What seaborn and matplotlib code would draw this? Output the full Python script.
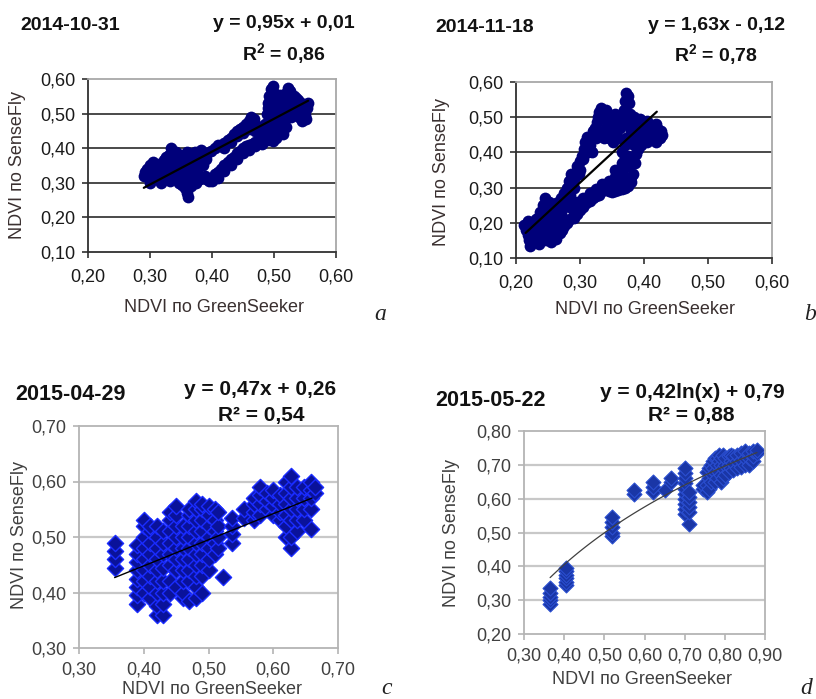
import numpy as np
import pandas as pd
import matplotlib
matplotlib.use("Agg")
import matplotlib.pyplot as plt
import seaborn as sns

# ---------------- data ----------------
a_points = [
    (0.290,0.320),(0.292,0.330),(0.295,0.340),(0.298,0.325),(0.300,0.350),(0.302,0.315),(0.305,0.360),
    (0.307,0.335),(0.310,0.310),(0.312,0.345),(0.315,0.355),(0.317,0.300),(0.320,0.330),(0.322,0.365),
    (0.325,0.320),(0.327,0.350),(0.330,0.380),(0.332,0.305),(0.334,0.400),(0.336,0.340),(0.338,0.370),
    (0.340,0.315),(0.342,0.390),(0.344,0.355),(0.346,0.300),(0.348,0.380),(0.350,0.330),(0.352,0.295),
    (0.354,0.365),(0.356,0.285),(0.358,0.345),(0.360,0.270),(0.361,0.260),(0.362,0.310),(0.364,0.380),
    (0.366,0.290),(0.368,0.355),(0.370,0.320),(0.372,0.390),(0.374,0.300),(0.376,0.340),(0.378,0.375),
    (0.380,0.310),(0.383,0.395),(0.385,0.350),(0.388,0.320),(0.390,0.370),(0.340,0.345),(0.325,0.375),
    (0.315,0.330),(0.360,0.390),(0.355,0.320),(0.345,0.330),(0.300,0.300),(0.366,0.335),
    (0.335,0.360),(0.350,0.355),(0.330,0.330),(0.370,0.360),(0.380,0.350),(0.375,0.325),
    (0.390,0.310),(0.395,0.305),(0.400,0.315),(0.405,0.325),(0.410,0.330),(0.415,0.340),(0.420,0.350),
    (0.425,0.360),(0.430,0.368),(0.435,0.375),(0.440,0.385),(0.445,0.392),(0.450,0.400),(0.455,0.405),
    (0.460,0.410),(0.465,0.413),(0.470,0.418),(0.475,0.420),(0.480,0.425),(0.485,0.428),(0.490,0.425),
    (0.400,0.305),(0.410,0.315),(0.420,0.335),(0.430,0.350),(0.440,0.370),(0.450,0.385),(0.460,0.395),
    (0.470,0.405),(0.480,0.412),
    (0.385,0.380),(0.392,0.385),(0.398,0.392),(0.405,0.400),(0.410,0.408),(0.415,0.405),(0.420,0.415),
    (0.425,0.425),(0.430,0.430),(0.435,0.440),(0.440,0.450),(0.445,0.455),(0.450,0.462),(0.455,0.470),
    (0.460,0.480),(0.463,0.490),(0.467,0.485),(0.470,0.470),(0.475,0.460),(0.480,0.455),(0.485,0.450),
    (0.420,0.400),(0.430,0.418),(0.440,0.435),(0.450,0.445),(0.460,0.455),(0.470,0.450),(0.480,0.440),
    (0.485,0.470),(0.488,0.500),(0.490,0.530),(0.492,0.550),(0.495,0.570),(0.498,0.580),(0.500,0.560),
    (0.502,0.540),(0.505,0.520),(0.500,0.500),(0.495,0.480),(0.500,0.450),(0.503,0.430),(0.498,0.420),
    (0.508,0.440),(0.510,0.470),(0.512,0.500),(0.515,0.530),(0.510,0.555),(0.518,0.545),(0.520,0.560),
    (0.523,0.575),(0.526,0.565),(0.528,0.545),(0.525,0.520),(0.522,0.490),(0.520,0.460),(0.515,0.440),
    (0.530,0.530),(0.533,0.550),(0.535,0.520),(0.538,0.540),(0.540,0.510),(0.543,0.530),(0.545,0.500),
    (0.548,0.520),(0.550,0.495),(0.553,0.515),(0.555,0.530),(0.552,0.485),(0.545,0.480),(0.535,0.500),
    (0.530,0.505),(0.528,0.490),(0.490,0.440),(0.493,0.460),(0.505,0.490),(0.490,0.515),
    (0.495,0.530),(0.505,0.555),(0.515,0.510),(0.525,0.540),(0.540,0.490),(0.535,0.545),(0.550,0.510),
    (0.500,0.470),(0.510,0.450),
]

b_points = [
    (0.212,0.195),(0.215,0.180),(0.218,0.165),(0.220,0.150),(0.222,0.135),(0.225,0.200),(0.228,0.175),
    (0.230,0.150),(0.232,0.210),(0.235,0.190),(0.236,0.140),(0.238,0.230),(0.240,0.165),(0.242,0.250),
    (0.244,0.200),(0.245,0.270),(0.247,0.150),(0.248,0.225),(0.250,0.180),(0.252,0.260),(0.254,0.145),
    (0.255,0.205),(0.257,0.240),(0.258,0.170),(0.260,0.215),(0.262,0.155),(0.263,0.255),(0.265,0.190),
    (0.267,0.230),(0.268,0.170),(0.270,0.205),(0.272,0.180),(0.275,0.245),(0.218,0.205),(0.226,0.160),
    (0.233,0.170),(0.243,0.185),
    (0.225,0.185),(0.230,0.195),(0.235,0.215),(0.240,0.205),(0.245,0.235),(0.250,0.215),(0.255,0.225),
    (0.250,0.245),(0.260,0.235),(0.265,0.250),(0.270,0.230),(0.280,0.260),(0.285,0.280),(0.275,0.210),
    (0.270,0.270),(0.275,0.285),(0.280,0.300),(0.283,0.320),(0.286,0.340),(0.290,0.325),(0.293,0.345),
    (0.296,0.360),(0.300,0.375),(0.303,0.390),(0.306,0.410),(0.308,0.430),(0.311,0.445),(0.315,0.420),
    (0.318,0.440),(0.320,0.460),(0.323,0.470),(0.326,0.485),(0.328,0.500),(0.330,0.515),(0.333,0.525),
    (0.336,0.510),(0.340,0.520),(0.343,0.505),(0.345,0.485),(0.348,0.470),(0.350,0.455),(0.328,0.460),
    (0.335,0.455),(0.340,0.470),(0.345,0.440),(0.352,0.430),(0.355,0.460),(0.358,0.480),(0.360,0.500),
    (0.363,0.470),(0.366,0.500),(0.368,0.520),(0.370,0.545),(0.372,0.570),(0.375,0.560),(0.377,0.540),
    (0.378,0.510),(0.380,0.490),(0.374,0.480),(0.312,0.400),(0.325,0.440),(0.338,0.440),(0.360,0.440),
    (0.290,0.300),(0.298,0.340),(0.355,0.510),(0.350,0.500),(0.342,0.490),(0.318,0.400),(0.305,0.380),
    (0.300,0.350),
    (0.260,0.190),(0.265,0.200),(0.270,0.195),(0.275,0.190),(0.280,0.200),(0.285,0.210),(0.290,0.215),
    (0.295,0.225),(0.300,0.235),(0.305,0.245),(0.310,0.255),(0.315,0.262),(0.320,0.270),(0.325,0.275),
    (0.330,0.280),(0.335,0.290),(0.340,0.295),(0.345,0.290),(0.350,0.288),(0.355,0.290),(0.360,0.292),
    (0.365,0.295),(0.370,0.300),(0.375,0.305),(0.380,0.315),(0.285,0.245),(0.295,0.260),(0.305,0.270),
    (0.315,0.285),(0.325,0.295),(0.335,0.310),(0.345,0.320),(0.355,0.330),(0.365,0.345),(0.375,0.360),
    (0.383,0.340),(0.386,0.370),(0.388,0.395),(0.390,0.410),(0.385,0.420),(0.392,0.430),
    (0.290,0.230),(0.300,0.250),(0.310,0.265),(0.320,0.285),(0.330,0.295),(0.340,0.305),(0.350,0.305),
    (0.360,0.310),(0.370,0.320),(0.380,0.330),(0.355,0.350),(0.365,0.370),(0.370,0.385),
    (0.380,0.440),(0.385,0.460),(0.390,0.480),(0.393,0.495),(0.396,0.475),(0.400,0.460),(0.403,0.480),
    (0.405,0.490),(0.408,0.470),(0.410,0.455),(0.413,0.440),(0.415,0.465),(0.418,0.480),(0.420,0.470),
    (0.423,0.455),(0.425,0.440),(0.427,0.460),(0.428,0.450),(0.400,0.440),(0.395,0.420),(0.405,0.430),
    (0.418,0.430),(0.370,0.420),(0.365,0.400),(0.375,0.390),(0.372,0.440),(0.380,0.460),(0.385,0.500),
    (0.390,0.455),
]

c_points = [
    (0.355,0.445),(0.355,0.460),(0.355,0.475),(0.355,0.490),
    (0.390,0.380),(0.390,0.395),(0.390,0.410),(0.390,0.425),(0.390,0.440),(0.390,0.455),(0.390,0.470),(0.390,0.485),
    (0.400,0.400),(0.400,0.420),(0.400,0.440),(0.400,0.460),(0.400,0.480),(0.400,0.500),(0.400,0.520),(0.400,0.530),
    (0.410,0.390),(0.410,0.410),(0.410,0.430),(0.410,0.450),(0.410,0.470),(0.410,0.490),(0.410,0.510),(0.410,0.520),
    (0.420,0.360),(0.420,0.375),(0.420,0.400),(0.420,0.420),(0.420,0.440),(0.420,0.460),(0.420,0.480),(0.420,0.500),(0.420,0.520),
    (0.430,0.360),(0.430,0.380),(0.430,0.400),(0.430,0.420),(0.430,0.445),(0.430,0.470),(0.430,0.490),(0.430,0.510),
    (0.440,0.400),(0.440,0.420),(0.440,0.450),(0.440,0.470),(0.440,0.490),(0.440,0.510),(0.440,0.530),(0.440,0.545),
    (0.450,0.410),(0.450,0.440),(0.450,0.460),(0.450,0.480),(0.450,0.500),(0.450,0.520),(0.450,0.540),(0.450,0.555),
    (0.460,0.390),(0.460,0.400),(0.460,0.420),(0.460,0.440),(0.460,0.460),(0.460,0.480),(0.460,0.500),(0.460,0.520),
    (0.470,0.385),(0.470,0.420),(0.470,0.440),(0.470,0.460),(0.470,0.480),(0.470,0.500),(0.470,0.520),(0.470,0.540),(0.470,0.550),
    (0.480,0.390),(0.480,0.410),(0.480,0.430),(0.480,0.450),(0.480,0.470),(0.480,0.490),(0.480,0.510),(0.480,0.530),(0.480,0.550),(0.480,0.565),
    (0.490,0.400),(0.490,0.430),(0.490,0.450),(0.490,0.470),(0.490,0.490),(0.490,0.510),(0.490,0.530),(0.490,0.550),(0.490,0.560),
    (0.500,0.440),(0.500,0.460),(0.500,0.480),(0.500,0.500),(0.500,0.520),(0.500,0.540),(0.500,0.555),
    (0.510,0.470),(0.510,0.490),(0.510,0.510),(0.510,0.530),(0.510,0.550),
    (0.515,0.480),(0.515,0.500),(0.515,0.520),(0.515,0.545),
    (0.523,0.428),
    (0.537,0.490),(0.537,0.505),(0.537,0.520),(0.537,0.535),
    (0.555,0.535),(0.555,0.550),
    (0.570,0.530),(0.570,0.545),(0.570,0.560),(0.570,0.570),
    (0.580,0.540),(0.580,0.560),(0.580,0.575),(0.580,0.590),
    (0.590,0.550),(0.590,0.565),(0.590,0.580),
    (0.600,0.540),(0.600,0.555),(0.600,0.570),(0.600,0.585),
    (0.610,0.530),(0.610,0.545),(0.610,0.560),(0.610,0.575),
    (0.620,0.500),(0.620,0.520),(0.620,0.540),(0.620,0.560),(0.620,0.580),(0.620,0.600),
    (0.627,0.480),(0.627,0.500),(0.627,0.530),(0.627,0.550),(0.627,0.570),(0.627,0.590),(0.627,0.610),
    (0.637,0.510),(0.637,0.530),(0.637,0.550),(0.637,0.570),(0.637,0.590),
    (0.647,0.530),(0.647,0.550),(0.647,0.570),(0.647,0.590),
    (0.658,0.515),(0.658,0.550),(0.658,0.570),(0.658,0.585),(0.658,0.600),
    (0.665,0.580),(0.665,0.590),
]

d_points = [
    (0.365,0.290),(0.365,0.300),(0.365,0.310),(0.365,0.320),(0.365,0.335),
    (0.405,0.345),(0.405,0.355),(0.405,0.365),(0.405,0.375),(0.405,0.385),(0.405,0.395),
    (0.520,0.490),(0.520,0.500),(0.520,0.515),(0.520,0.530),(0.520,0.545),
    (0.575,0.615),(0.575,0.625),
    (0.622,0.620),(0.622,0.635),(0.622,0.650),
    (0.650,0.625),
    (0.665,0.650),(0.665,0.660),
    (0.700,0.555),(0.700,0.570),(0.700,0.585),(0.700,0.600),(0.700,0.615),(0.700,0.630),(0.700,0.645),
    (0.700,0.660),(0.700,0.675),(0.700,0.690),
    (0.712,0.525),(0.712,0.560),(0.712,0.575),(0.712,0.590),(0.712,0.605),(0.712,0.620),
    (0.745,0.630),(0.745,0.640),(0.755,0.620),(0.755,0.640),(0.755,0.680),(0.760,0.630),(0.760,0.660),
    (0.760,0.690),(0.765,0.650),(0.765,0.700),(0.770,0.670),(0.770,0.690),(0.770,0.710),(0.775,0.650),
    (0.775,0.680),(0.775,0.720),(0.780,0.660),(0.780,0.700),(0.780,0.720),(0.785,0.680),(0.785,0.710),
    (0.785,0.730),(0.790,0.650),(0.790,0.670),(0.790,0.700),(0.790,0.720),(0.795,0.660),(0.795,0.690),
    (0.795,0.730),(0.800,0.670),(0.800,0.700),(0.800,0.720),(0.810,0.680),(0.810,0.700),(0.810,0.725),
    (0.815,0.690),(0.815,0.710),(0.815,0.730),(0.820,0.685),(0.820,0.705),(0.820,0.725),(0.830,0.690),
    (0.830,0.710),(0.830,0.730),(0.840,0.695),(0.840,0.715),(0.840,0.735),(0.850,0.700),(0.850,0.720),
    (0.850,0.740),(0.860,0.700),(0.860,0.720),(0.860,0.735),(0.870,0.710),(0.870,0.725),(0.870,0.740),
    (0.880,0.735),(0.880,0.745),
]

dates = ["2014-10-31", "2014-11-18", "2015-04-29", "2015-05-22"]
equations = ["y = 0,95x + 0,01", "y = 1,63x - 0,12", "y = 0,47x + 0,26", "y = 0,42ln(x) + 0,79"]
r2_labels = [r"R$^\mathregular{2}$ = 0,86", r"R$^\mathregular{2}$ = 0,78", "R² = 0,54", "R² = 0,88"]
panel_letters = ["a", "b", "c", "d"]
# drawn trend lines: (kind, coef, intercept, x_start, x_end)
trend_lines = [("lin", 0.95, 0.01, 0.290, 0.555),
               ("lin", 1.68, -0.19, 0.215, 0.420),
               ("lin", 0.47, 0.26, 0.355, 0.660),
               ("log", 0.42, 0.79, 0.365, 0.880)]
x_limits = [(0.20, 0.60), (0.20, 0.60), (0.30, 0.70), (0.30, 0.90)]
y_limits = [(0.10, 0.60), (0.10, 0.60), (0.30, 0.70), (0.20, 0.80)]
x_tick_labels = [["0,20", "0,30", "0,40", "0,50", "0,60"],
                 ["0,20", "0,30", "0,40", "0,50", "0,60"],
                 ["0,30", "0,40", "0,50", "0,60", "0,70"],
                 ["0,30", "0,40", "0,50", "0,60", "0,70", "0,80", "0,90"]]
y_tick_labels = [["0,10", "0,20", "0,30", "0,40", "0,50", "0,60"],
                 ["0,10", "0,20", "0,30", "0,40", "0,50", "0,60"],
                 ["0,30", "0,40", "0,50", "0,60", "0,70"],
                 ["0,20", "0,30", "0,40", "0,50", "0,60", "0,70", "0,80"]]
x_label = "NDVI по GreenSeeker"
y_label = "NDVI по SenseFly"

# ---------------- figure ----------------
sns.set_theme(style="white")
plt.rcParams["font.family"] = ["Liberation Sans", "DejaVu Sans"]
plt.rcParams["mathtext.fontset"] = "custom"
plt.rcParams["mathtext.rm"] = "Liberation Sans:bold"

W, H = 816, 699
fig = plt.figure(figsize=(W / 100, H / 100), dpi=100)
fig.patch.set_facecolor("white")

# axes boxes in pixels: left, top, right, bottom
boxes = [(88, 79, 336, 252), (516, 82, 772, 258), (79, 426, 338, 648), (524, 431, 765, 634)]

def fbox(b):
    l, t, r, btm = b
    return [l / W, 1 - btm / H, (r - l) / W, (btm - t) / H]

def ftext(x, y, s, **kw):
    fig.text(x / W, 1 - y / H, s, **kw)

all_points = [a_points, b_points, c_points, d_points]
for i in range(4):
    ax = fig.add_axes(fbox(boxes[i]))
    df = pd.DataFrame(all_points[i], columns=["gs", "sf"])
    old = i < 2
    if old:
        grid_c, frame_c, axis_c, tick_c = "#3a3a3a", "#a8a8a8", "#303030", "#1a1a1a"
    else:
        grid_c, frame_c, axis_c, tick_c = "#c8c8c8", "#b4b4b4", "#b4b4b4", "#404040"

    ax.set_xlim(*x_limits[i])
    ax.set_ylim(*y_limits[i])
    xt = np.linspace(x_limits[i][0], x_limits[i][1], len(x_tick_labels[i]))
    yt = np.linspace(y_limits[i][0], y_limits[i][1], len(y_tick_labels[i]))
    ax.set_xticks(xt)
    ax.set_xticklabels(x_tick_labels[i])
    ax.set_yticks(yt)
    ax.set_yticklabels(y_tick_labels[i])
    for yv in yt[1:-1]:
        ax.axhline(yv, color=grid_c, lw=1.3 if old else 1.6, zorder=0)

    for side in ["top", "right"]:
        ax.spines[side].set_color(frame_c)
        ax.spines[side].set_linewidth(1.3)
    for side in ["left", "bottom"]:
        ax.spines[side].set_color(axis_c)
        ax.spines[side].set_linewidth(1.3)
    ax.tick_params(axis="both", direction="out", length=4, width=1.2, color=axis_c,
                   labelsize=13, labelcolor=tick_c, bottom=True, left=True)
    ax.tick_params(axis="x", pad=8 if old else 6)
    ax.tick_params(axis="y", pad=5)

    if old:
        sns.scatterplot(data=df, x="gs", y="sf", ax=ax, color="#00007a", marker="o",
                        s=72, linewidth=0, alpha=1, zorder=2, legend=False)
    elif i == 2:
        sns.scatterplot(data=df, x="gs", y="sf", ax=ax, color="#0a129a", marker="D",
                        s=68, edgecolor="#1a2cff", linewidth=1.0, zorder=2, legend=False)
    else:
        sns.scatterplot(data=df, x="gs", y="sf", ax=ax, color="#1a36a6", marker="D",
                        s=58, edgecolor="#2a4ed0", linewidth=0.8, zorder=2, legend=False)

    kind, k, b0, xs, xe = trend_lines[i]
    lx = np.linspace(xs, xe, 60)
    ly = k * lx + b0 if kind == "lin" else k * np.log(lx) + b0
    sns.lineplot(x=lx, y=ly, ax=ax, color="black" if i < 3 else "#404040",
                 lw=1.6 if old else (1.0 if i == 2 else 0.9), zorder=3)
    ax.set_xlabel("")
    ax.set_ylabel("")

# ---------- texts ----------
title_kw = dict(fontweight="bold", color="#111111", va="center")
# a
ftext(20, 25, dates[0], ha="left", fontsize=14, **title_kw)
ftext(284, 23, equations[0], ha="center", fontsize=14, **title_kw)
ftext(284, 54, r2_labels[0], ha="center", fontsize=14, **title_kw)
ftext(18, 165, y_label, rotation=90, ha="center", va="center", fontsize=13, color="#3a3030")
ftext(214, 308, x_label, ha="center", va="center", fontsize=13, color="#3a3030")
ftext(380, 315, panel_letters[0], ha="center", va="center", fontsize=17,
      family="Liberation Serif", style="italic", color="#222222")
# b
ftext(435, 27, dates[1], ha="left", fontsize=14, **title_kw)
ftext(716, 25, equations[1], ha="center", fontsize=14, **title_kw)
ftext(716, 55, r2_labels[1], ha="center", fontsize=14, **title_kw)
ftext(441, 172, y_label, rotation=90, ha="center", va="center", fontsize=13, color="#3a3030")
ftext(645, 310, x_label, ha="center", va="center", fontsize=13, color="#3a3030")
ftext(810, 315, panel_letters[1], ha="center", va="center", fontsize=17,
      family="Liberation Serif", style="italic", color="#222222")
# c
ftext(15, 395, dates[2], ha="left", fontsize=15.5, **title_kw)
ftext(260, 390, equations[2], ha="center", fontsize=15, **title_kw)
ftext(261, 415, r2_labels[2], ha="center", fontsize=15, **title_kw)
ftext(20, 535, y_label, rotation=90, ha="center", va="center", fontsize=13, color="#404040")
ftext(212, 690, x_label, ha="center", va="center", fontsize=13, color="#404040")
ftext(387, 689, panel_letters[2], ha="center", va="center", fontsize=17,
      family="Liberation Serif", style="italic", color="#222222")
# d
ftext(435, 400, dates[3], ha="left", fontsize=15.5, **title_kw)
ftext(692, 392, equations[3], ha="center", fontsize=15, **title_kw)
ftext(691, 415, r2_labels[3], ha="center", fontsize=15, **title_kw)
ftext(451, 533, y_label, rotation=90, ha="center", va="center", fontsize=13, color="#404040")
ftext(642, 680, x_label, ha="center", va="center", fontsize=13, color="#404040")
ftext(806, 688, panel_letters[3], ha="center", va="center", fontsize=17,
      family="Liberation Serif", style="italic", color="#222222")

fig.savefig("out.png", dpi=100, facecolor="white")
